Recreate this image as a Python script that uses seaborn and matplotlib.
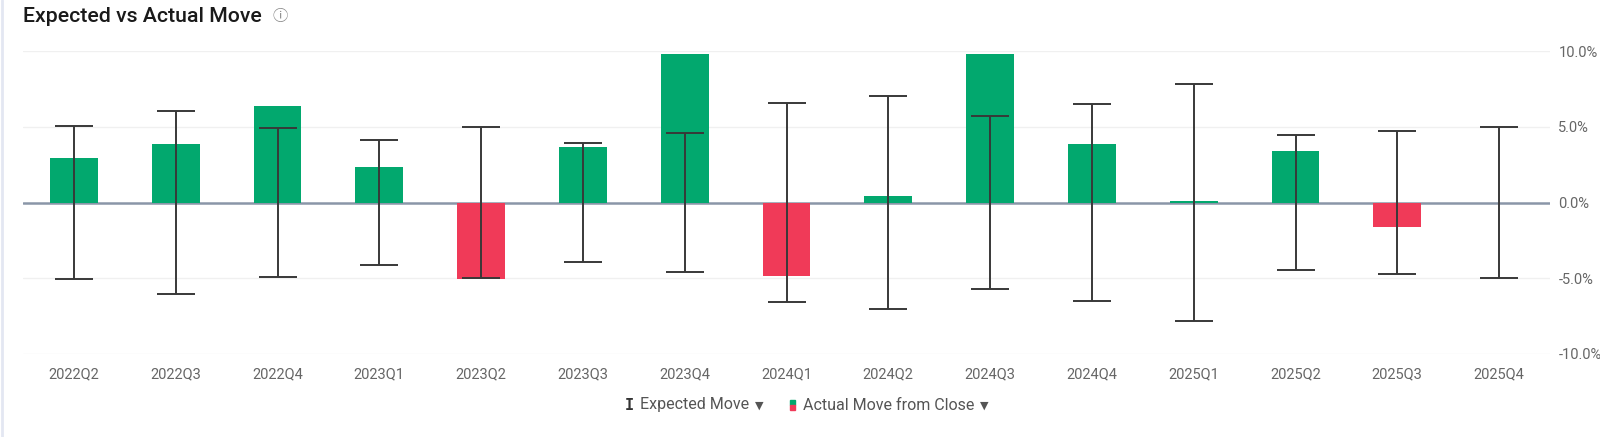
import numpy as np
import pandas as pd
import matplotlib
matplotlib.use("Agg")
import matplotlib.pyplot as plt
import matplotlib.patches as mpatches
import seaborn as sns

# ---------------------------------------------------------------------------
# data (percent)
# ---------------------------------------------------------------------------
quarters = ["2022Q2", "2022Q3", "2022Q4", "2023Q1", "2023Q2", "2023Q3", "2023Q4",
            "2024Q1", "2024Q2", "2024Q3", "2024Q4", "2025Q1", "2025Q2", "2025Q3", "2025Q4"]
actual_move = [2.93, 3.9, 6.38, 2.34, -5.05, 3.68, 9.8,
               -4.88, 0.4, 9.8, 3.86, 0.13, 3.4, -1.61, np.nan]
expected_move = [5.07, 6.05, 4.9, 4.13, 5.0, 3.95, 4.57,
                 6.6, 7.02, 5.7, 6.51, 7.83, 4.48, 4.75, 5.0]
y_ticks = [-10, -5, 0, 5, 10]

df = pd.DataFrame({"quarter": quarters, "actual": actual_move, "expected": expected_move})
df["sign"] = np.where(df["actual"] < 0, "down", "up")

# ---------------------------------------------------------------------------
# plot
# ---------------------------------------------------------------------------
sns.set_style("white")
plt.rcParams["font.family"] = ["Roboto", "DejaVu Sans"]

green = "#02A86E"
red = "#F03A58"
grey_txt = "#666666"

fig = plt.figure(figsize=(16, 4.37), dpi=100)
ax = fig.add_axes([23 / 1600, 1 - 353.7 / 437, (1550 - 23) / 1600, (353.7 - 51.3) / 437])

ax.axhline(0, color="#8a96a8", lw=1.8, zorder=1)
for v in y_ticks:
    if v != 0:
        ax.axhline(v, color="#f0f0f0", lw=1, zorder=0)

sns.barplot(data=df, x="quarter", y="actual", hue="sign",
            palette={"up": green, "down": red}, dodge=False, width=0.47,
            saturation=1, legend=False, linewidth=0, edgecolor="none",
            ax=ax, zorder=2)

x = np.arange(len(quarters))
ax.errorbar(x, np.zeros(len(x)), yerr=df["expected"], fmt="none",
            ecolor="#383838", elinewidth=1.4, capsize=13.5, capthick=1.4, zorder=4)

ax.set_xlim(-0.5, len(quarters) - 0.5)
ax.set_ylim(-10, 10)
ax.set_yticks(y_ticks)
ax.set_yticklabels([f"{v:.1f}%" for v in y_ticks])
ax.yaxis.tick_right()

ax.set_xlabel("")
ax.set_ylabel("")
ax.tick_params(axis="both", length=0, labelsize=10.5, labelcolor=grey_txt)
ax.tick_params(axis="x", pad=10)
ax.tick_params(axis="y", pad=6)
sns.despine(ax=ax, left=True, bottom=True, right=True, top=True)

# title
fig.text(23 / 1600, 1 - 17 / 437, "Expected vs Actual Move", fontsize=15.3,
         fontweight="medium", color="#1a1a1a", va="center", ha="left")
fig.text(272 / 1600, 1 - 16 / 437, "ⓘ", fontsize=11, color="#888888",
         va="center", ha="left", family=["Noto Sans CJK SC", "DejaVu Sans"])

# left border of the card
fig.add_artist(plt.Line2D([0.001, 0.001], [0, 1], color="#e3e7f2", lw=2,
                          transform=fig.transFigure))

# legend
ly = 1 - 405 / 437
fig.text(625 / 1600, ly, "I", fontsize=11, color="#333333", va="center",
         ha="left", family=["DejaVu Sans Mono"], fontweight="bold")
fig.text(640 / 1600, ly, "Expected Move", fontsize=11.5, color="#555555",
         va="center", ha="left")
fig.text(755 / 1600, ly - 0.002, "▼", fontsize=8, color="#555555",
         va="center", ha="left", family=["DejaVu Sans"])
fig.add_artist(mpatches.Rectangle((790 / 1600, ly), 5 / 1600, 5 / 437,
                                  color=green, transform=fig.transFigure))
fig.add_artist(mpatches.Rectangle((790 / 1600, ly - 5 / 437), 5 / 1600, 5 / 437,
                                  color=red, transform=fig.transFigure))
fig.text(803 / 1600, ly, "Actual Move from Close", fontsize=11.5, color="#555555",
         va="center", ha="left")
fig.text(980 / 1600, ly - 0.002, "▼", fontsize=8, color="#555555",
         va="center", ha="left", family=["DejaVu Sans"])

plt.savefig("out.png", dpi=100)
